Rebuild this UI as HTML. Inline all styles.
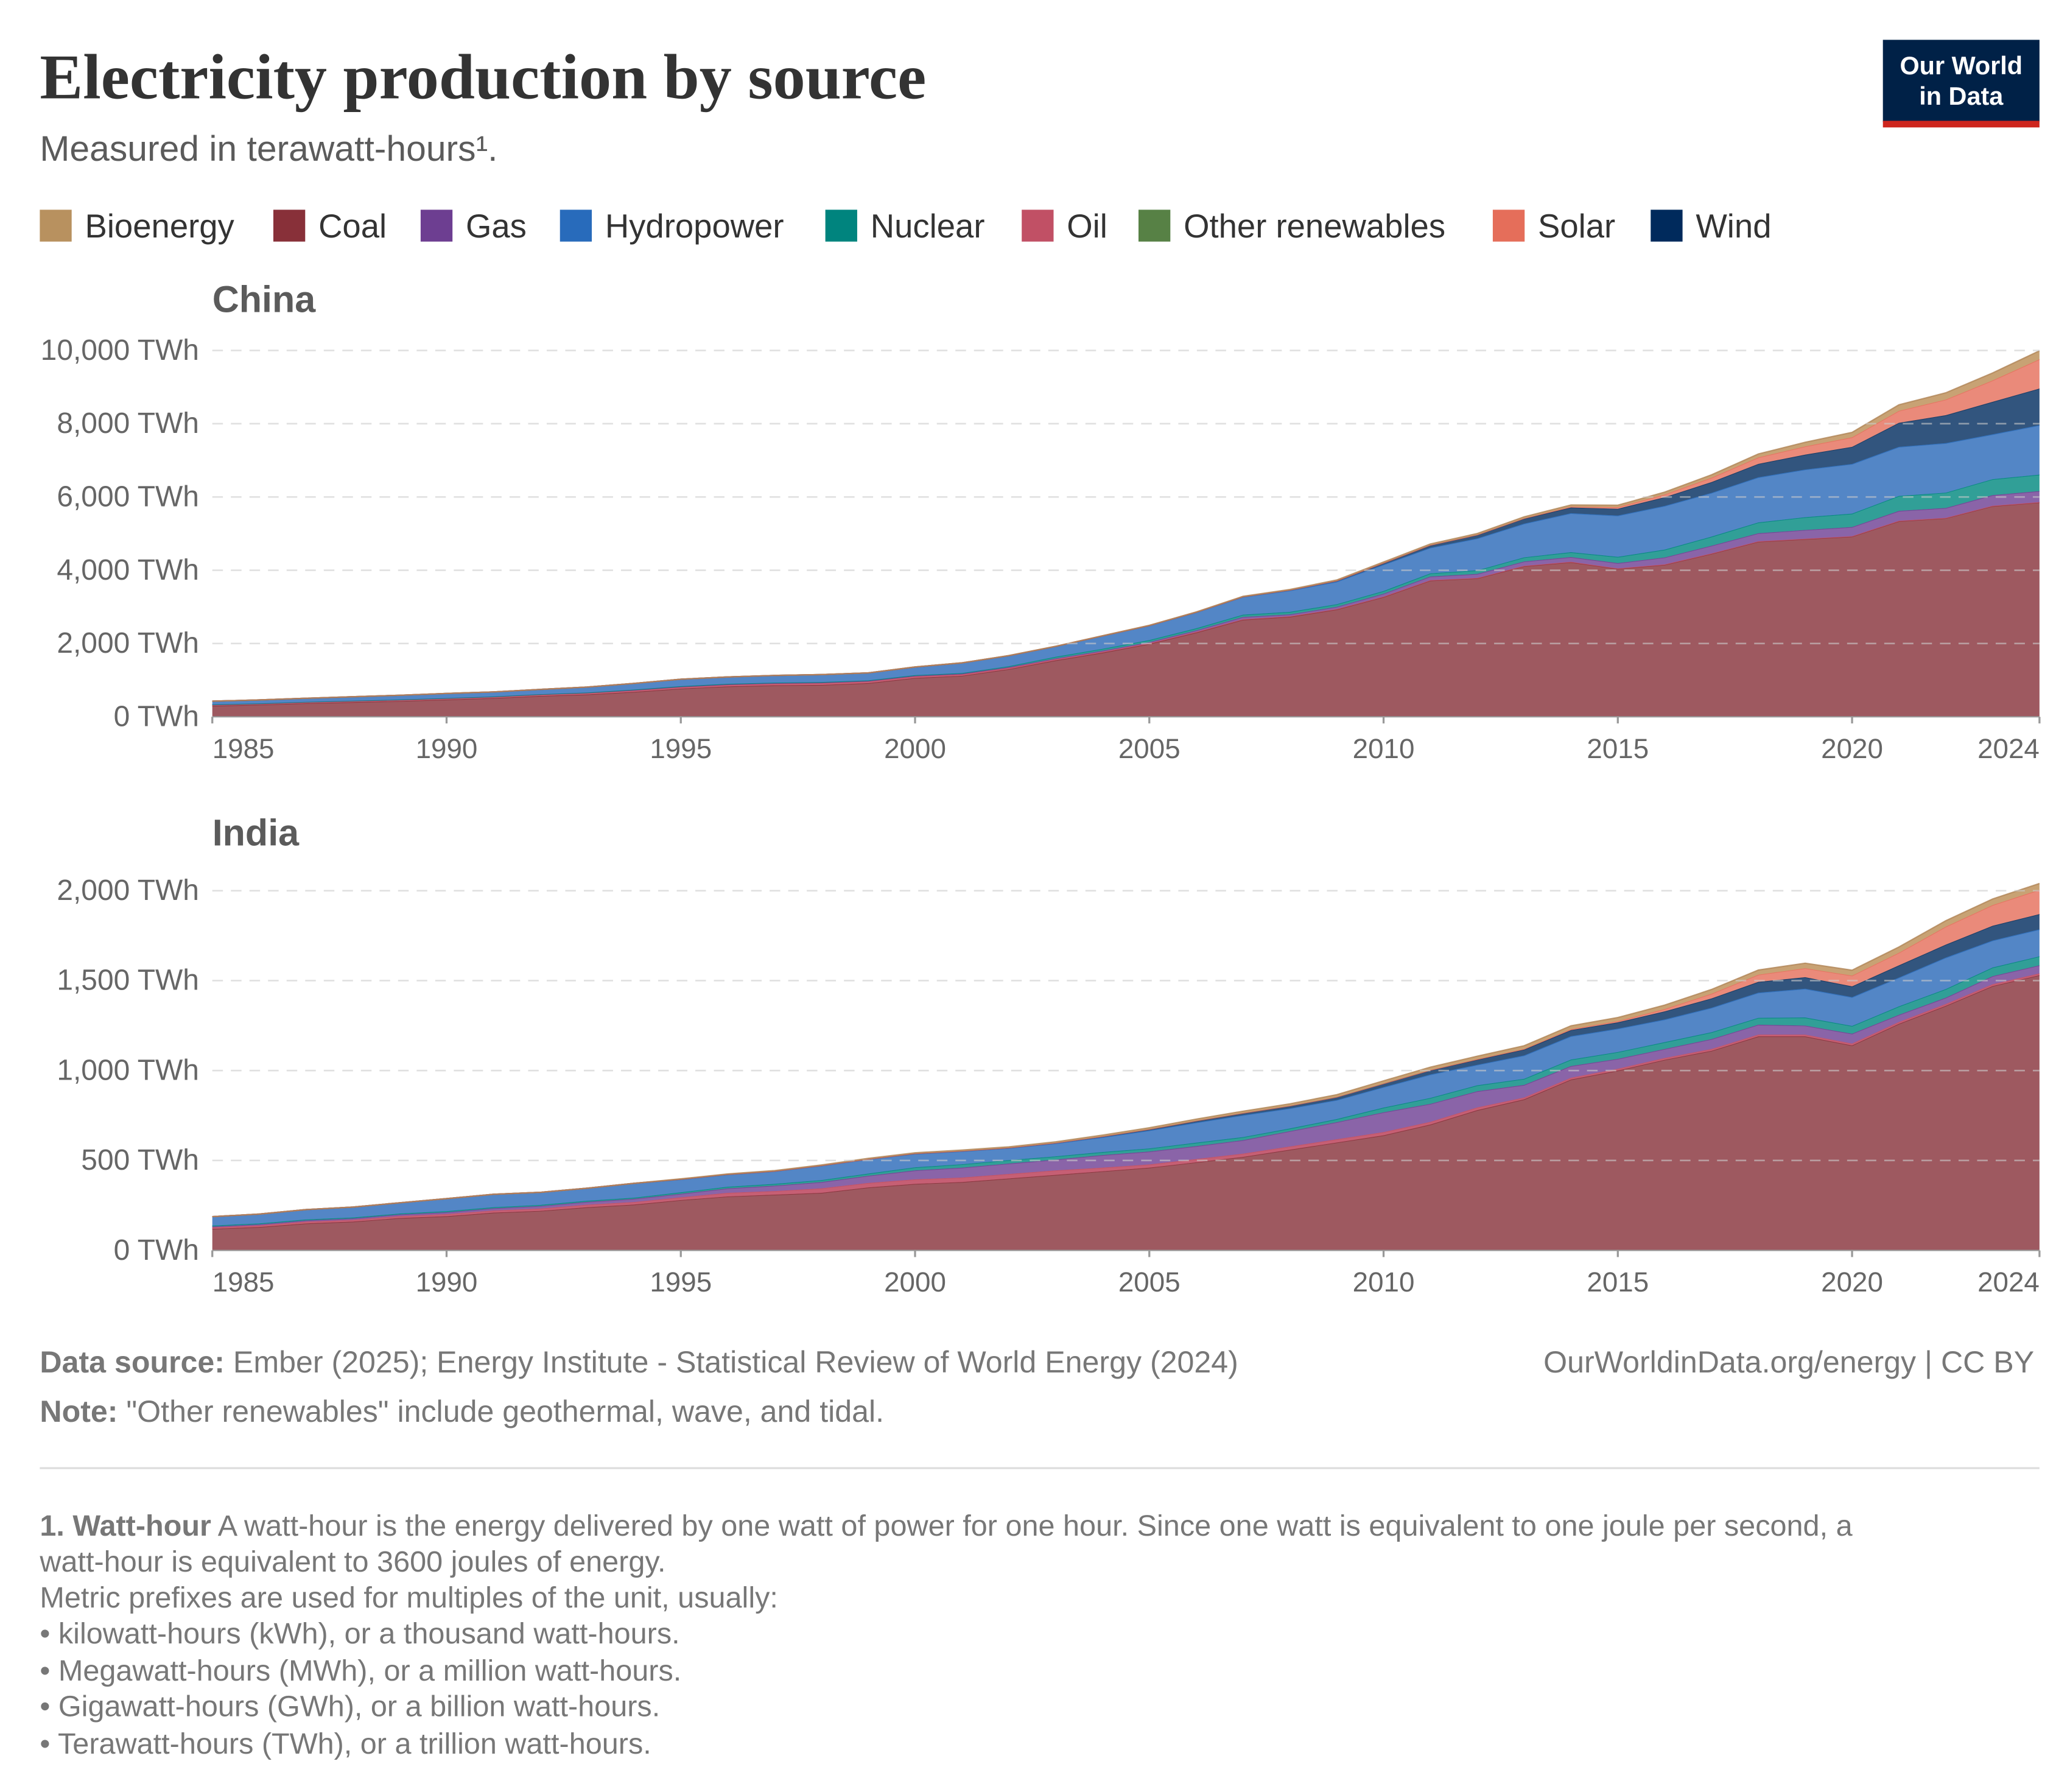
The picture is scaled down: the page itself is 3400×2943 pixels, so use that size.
<!DOCTYPE html>
<html><head><meta charset="utf-8">
<style>
html,body{margin:0;padding:0;background:#fff}
svg{display:block}
text{font-family:"Liberation Sans",sans-serif}
</style></head>
<body>
<svg id="chart" xmlns="http://www.w3.org/2000/svg" width="3400" height="2943" viewBox="0 0 1560 1350" preserveAspectRatio="none">
<text x="30" y="74" font-weight="bold" font-size="48" fill="#333" textLength="668" lengthAdjust="spacingAndGlyphs" style="font-family:'Liberation Serif',serif">Electricity production by source</text>
<text x="30" y="121" font-size="27" fill="#5b5b5b">Measured in terawatt-hours¹.</text>
<g>
<rect x="1419" y="30" width="118" height="62" fill="#002147"/>
<rect x="1419" y="91" width="118" height="5" fill="#ce261e"/>
<text x="1478" y="56" font-size="19" font-weight="bold" fill="#fff" text-anchor="middle">Our World</text>
<text x="1478" y="79" font-size="19" font-weight="bold" fill="#fff" text-anchor="middle">in Data</text>
</g>
<g id="legend"></g>
<g id="china"></g>
<g id="india"></g>
<g font-size="23" fill="#777">
<text x="30" y="1034"><tspan font-weight="bold">Data source:</tspan> Ember (2025); Energy Institute - Statistical Review of World Energy (2024)</text>
<text x="1533" y="1034" text-anchor="end">OurWorldinData.org/energy | CC BY</text>
<text x="30" y="1071"><tspan font-weight="bold">Note:</tspan> "Other renewables" include geothermal, wave, and tidal.</text>
<line x1="30" y1="1106" x2="1537" y2="1106" stroke="#ddd" stroke-width="1.5"/>
<g font-size="22.3">
<text x="30" y="1157"><tspan font-weight="bold">1. Watt-hour</tspan> A watt-hour is the energy delivered by one watt of power for one hour. Since one watt is equivalent to one joule per second, a</text>
<text x="30" y="1184">watt-hour is equivalent to 3600 joules of energy.</text>
<text x="30" y="1211">Metric prefixes are used for multiples of the unit, usually:</text>
<text x="30" y="1238">• kilowatt-hours (kWh), or a thousand watt-hours.</text>
<text x="30" y="1266">• Megawatt-hours (MWh), or a million watt-hours.</text>
<text x="30" y="1293">• Gigawatt-hours (GWh), or a billion watt-hours.</text>
<text x="30" y="1321">• Terawatt-hours (TWh), or a trillion watt-hours.</text>
</g>
</g>
</svg>
<script>
const years = [];
for (let y = 1985; y <= 2024; y++) years.push(y);
const sources = ["Coal","Oil","Gas","Nuclear","Hydropower","Wind","Solar","Other renewables","Bioenergy"];
const legendOrder = ["Bioenergy","Coal","Gas","Hydropower","Nuclear","Oil","Other renewables","Solar","Wind"];
const fillColors = {"Coal":"#9e5960","Oil":"#c65f74","Gas":"#8a64a8","Nuclear":"#319f97","Hydropower":"#5386c6","Wind":"#32557e","Solar":"#ea8a7a","Other renewables":"#6f9a5e","Bioenergy":"#c8a274"};
const lineColors = {"Coal":"#883039","Oil":"#c15065","Gas":"#6d3e91","Nuclear":"#00847e","Hydropower":"#286bbb","Wind":"#18375f","Solar":"#e56e5a","Other renewables":"#578145","Bioenergy":"#b08556"};
const legendColors = {"Bioenergy":"#b8915f","Coal":"#883039","Gas":"#6d3e91","Hydropower":"#286bbb","Nuclear":"#00847e","Oil":"#c15065","Other renewables":"#578145","Solar":"#e56e5a","Wind":"#002a5c"};

const chinaCoal = [300,330,370,400,430,470,510,570,610,680,770,830,860,870,920,1060,1120,1300,1540,1750,1990,2300,2650,2730,2930,3270,3720,3780,4110,4220,4040,4150,4450,4780,4850,4920,5340,5420,5750,5850];
const chinaOil = [30,30,32,33,35,36,38,40,42,44,45,48,50,55,50,45,40,35,30,25,20,20,15,15,12,12,10,10,10,10,10,10,10,10,10,10,10,10,10,10];
const chinaGas = [5,5,5,5,5,5,6,6,7,7,8,8,9,9,10,15,17,20,25,30,30,40,60,50,60,77,100,110,120,130,145,190,210,220,240,250,270,270,290,300];
const chinaNuclear = [0,0,0,0,0,0,0,0,2,13,13,14,14,14,15,17,17,25,43,50,53,55,62,68,70,74,86,97,112,133,171,213,248,295,348,366,408,418,435,450];
const chinaHydro = [92,95,100,110,118,127,125,132,151,168,190,188,196,204,204,222,277,288,283,353,397,435,485,585,616,722,699,872,920,1064,1126,1193,1194,1232,1302,1355,1340,1352,1226,1350];
const chinaWind = [0,0,0,0,0,0,0,0,0,0,0,0,0,0,0,1,1,1,1,1,2,4,6,13,27,45,70,96,138,156,186,237,295,366,406,467,656,762,886,1000];
const chinaSolar = [0,0,0,0,0,0,0,0,0,0,0,0,0,0,0,0,0,0,0,0,0,0,0,0,0,1,3,4,8,23,45,75,118,177,225,261,327,427,584,800];
const chinaOther = [0,0,0,0,0,0,0,0,0,0,0,0,0,0,0,0,0,0,0,0,0,0,0,0,0,0,0,0,0,0,0,0,0,0,0,0,0,0,0,0];
const chinaBio = [0,0,0,0,0,0,0,0,0,0,0,0,0,0,0,2,2,3,3,4,5,7,10,14,20,25,30,34,40,45,53,65,80,95,112,135,165,185,205,230];

const indiaCoal = [120,130,150,160,180,190,210,220,240,255,280,300,310,320,350,370,380,400,420,440,460,490,520,560,600,640,700,780,840,950,1000,1060,1110,1190,1190,1140,1260,1360,1470,1530];
const indiaOil = [8,9,10,10,11,12,12,13,14,14,15,20,20,25,25,25,25,25,25,20,18,18,18,18,18,18,15,15,10,10,10,10,10,10,10,10,10,10,10,10];
const indiaGas = [5,6,7,8,9,10,12,14,16,18,20,25,30,35,40,50,55,58,60,70,72,72,75,85,95,110,100,90,70,65,55,50,55,55,50,55,40,35,45,45];
const indiaNuclear = [5,5,5,5,5,6,6,6,6,6,8,9,10,11,12,17,19,19,18,17,17,19,17,15,17,26,33,33,34,36,38,38,38,38,45,43,47,48,48,50];
const indiaHydro = [50,52,55,58,60,70,72,70,70,80,72,68,70,80,80,75,72,67,72,82,100,112,122,112,106,114,130,114,130,130,130,126,136,140,160,160,160,175,150,150];
const indiaWind = [0,0,0,0,0,0,0,0,0,0,1,1,1,1,1,2,2,2,3,5,7,10,12,14,17,20,24,29,33,34,35,45,52,60,64,60,68,72,82,85];
const indiaSolar = [0,0,0,0,0,0,0,0,0,0,0,0,0,0,0,0,0,0,0,0,0,0,0,0,0,0,1,2,3,5,7,13,26,40,50,60,70,100,115,135];
const indiaOther = [0,0,0,0,0,0,0,0,0,0,0,0,0,0,0,0,0,0,0,0,0,0,0,0,0,0,0,0,0,0,0,0,0,0,0,0,0,0,0,0];
const indiaBio = [0,0,0,0,0,0,0,0,0,0,2,2,3,3,4,4,5,5,6,7,8,9,10,11,13,15,16,17,18,19,20,22,24,26,28,30,32,33,34,35];

const chinaTicks = [0,2000,4000,6000,8000,10000];
const indiaTicks = [0,500,1000,1500,2000];
const xTicks = [1985,1990,1995,2000,2005,2010,2015,2020,2024];

const NS = "http://www.w3.org/2000/svg";
function mk(tag, attrs, parent){const e=document.createElementNS(NS,tag);for(const k in attrs)e.setAttribute(k,attrs[k]);parent.appendChild(e);return e;}
const fmt = v => v.toLocaleString("en-US") + " TWh";

const legend = document.getElementById("legend");
const legendX = [30,206,317,422,622,770,858,1125,1244];
legendOrder.forEach((name,i)=>{
  const g = mk("g",{},legend);
  
  
  mk("rect",{x:legendX[i],y:158,width:24,height:24,fill:legendColors[name]},g);
  const t = mk("text",{x:legendX[i]+34,y:179,"font-size":25,fill:"#333"},g);
  t.textContent = name;
});

function drawPanel(gid, title, titleY, y0, yTop, maxV, ticks, series){
  const g = document.getElementById(gid);
  const x0 = 160, x1 = 1537;
  const xs = yr => x0 + (yr - 1985) / (2024 - 1985) * (x1 - x0);
  const ys = v => y0 - v / maxV * (y0 - yTop);
  const t = mk("text",{x:160,y:titleY,"font-size":28,"font-weight":"bold",fill:"#5b5b5b"},g);
  
  
  t.textContent = title;
  ticks.forEach(v=>{
    const lab = mk("text",{x:150,y:ys(v)+7,"text-anchor":"end","font-size":22,fill:"#666"},g);
    
    
    lab.textContent = fmt(v);
  });
  const cum = years.map(()=>0);
  sources.forEach((name,si)=>{
    const vals = series[si];
    const lower = cum.slice();
    vals.forEach((v,i)=>cum[i]+=v);
    const upper = cum.slice();
    let d = "M";
    years.forEach((yr,i)=>{d += xs(yr).toFixed(2)+","+ys(upper[i]).toFixed(2)+" L";});
    for(let i=years.length-1;i>=0;i--){d += xs(years[i]).toFixed(2)+","+ys(lower[i]).toFixed(2)+(i?" L":" Z");}
    const p = mk("path",{d:d,fill:fillColors[name]},g);
    
    
    if (vals.some(v=>v>0)) {
      let ld = "M";
      years.forEach((yr,i)=>{ld += xs(yr).toFixed(2)+","+ys(upper[i]).toFixed(2)+(i<years.length-1?" L":"");});
      const l = mk("path",{d:ld,fill:"none",stroke:lineColors[name],"stroke-width":1,"stroke-opacity":0.8},g);
      
      
    }
  });
  ticks.forEach(v=>{
    if(v===0) return;
    const gl = mk("line",{x1:x0,x2:x1,y1:ys(v),y2:ys(v),stroke:"#ccc","stroke-width":1.2,"stroke-dasharray":"8,6","stroke-opacity":0.6},g);
    
    
  });
  const ax = mk("line",{x1:x0,x2:x1,y1:y0,y2:y0,stroke:"#999","stroke-width":1},g);
  
  
  xTicks.forEach(yr=>{
    const tk = mk("line",{x1:xs(yr),x2:xs(yr),y1:y0,y2:y0+5,stroke:"#999","stroke-width":1.5},g);
    
    
    let anchor = "middle", tx = xs(yr);
    if(yr===1985){anchor="start"; tx = x0;}
    if(yr===2024){anchor="end"; tx = x1;}
    const lab = mk("text",{x:tx,y:y0+31,"text-anchor":anchor,"font-size":21,fill:"#666"},g);
    
    
    lab.textContent = yr;
  });
}
drawPanel("china","China",235,540,264,10000,chinaTicks,[chinaCoal,chinaOil,chinaGas,chinaNuclear,chinaHydro,chinaWind,chinaSolar,chinaOther,chinaBio]);
drawPanel("india","India",637,942,671,2000,indiaTicks,[indiaCoal,indiaOil,indiaGas,indiaNuclear,indiaHydro,indiaWind,indiaSolar,indiaOther,indiaBio]);
</script>
</body></html>
